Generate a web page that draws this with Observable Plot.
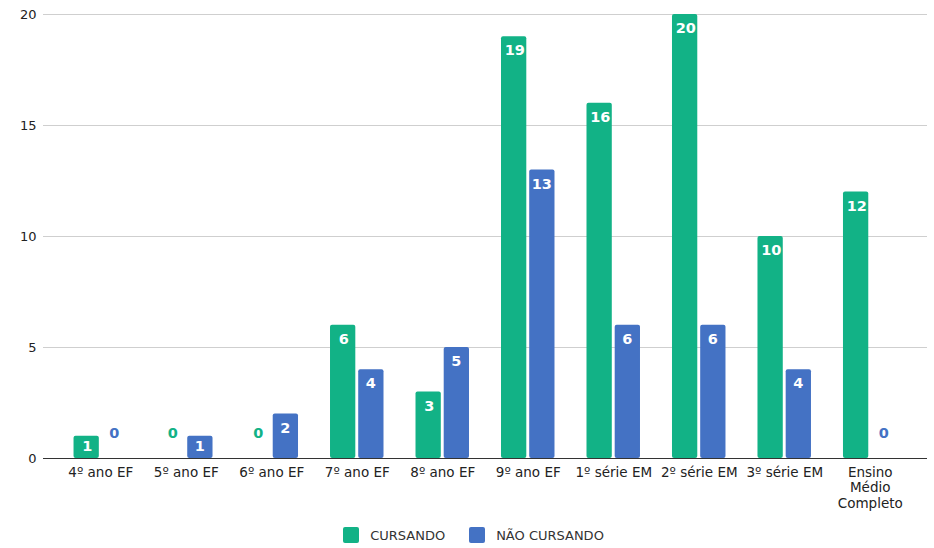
<!DOCTYPE html>
<html>
<head>
<meta charset="utf-8">
<script src="https://cdn.jsdelivr.net/npm/d3@7"></script>
<script src="https://cdn.jsdelivr.net/npm/@observablehq/plot@0.6"></script>
<style>
  html, body { margin: 0; padding: 0; background: #fff; }
  body { width: 934px; height: 548px; overflow: hidden; font-family: "DejaVu Sans", Verdana, sans-serif; }
  #legend { display: flex; justify-content: center; align-items: center; margin-top: 12px; padding-left: 13px; font-size: 13px; color: #333; }
  .item { display: flex; align-items: center; margin: 0 12px; }
  .sw { width: 16px; height: 16px; border-radius: 2px; margin-right: 11px; }
</style>
</head>
<body>
<div id="chart"></div>
<div id="legend"></div>
<script>
const categories = ["4º ano EF", "5º ano EF", "6º ano EF", "7º ano EF", "8º ano EF", "9º ano EF", "1º série EM", "2º série EM", "3º série EM", "Ensino Médio Completo"];
const cursando = [1, 0, 0, 6, 3, 19, 16, 20, 10, 12];
const naoCursando = [0, 1, 2, 4, 5, 13, 6, 6, 4, 0];
const seriesNames = ["CURSANDO", "NÃO CURSANDO"];
const seriesColors = ["#12b286", "#4472c4"];
const yTicks = [0, 5, 10, 15, 20];

const data = categories.flatMap((c, i) => [
  {category: c, series: seriesNames[0], value: cursando[i]},
  {category: c, series: seriesNames[1], value: naoCursando[i]}
]);
const s0 = data.filter(d => d.series === seriesNames[0]);
const s1 = data.filter(d => d.series === seriesNames[1]);

const labelStyle = {x: "category", y: "value", text: d => String(d.value), fontWeight: "bold", fontSize: 14.5};

const chart = Plot.plot({
  width: 934,
  height: 515,
  marginTop: 14,
  marginBottom: 57,
  marginLeft: 43,
  marginRight: 7,
  style: {fontFamily: "DejaVu Sans, Verdana, sans-serif", fontSize: "13px", color: "#222", background: "#fff"},
  x: {domain: categories, paddingInner: 0, paddingOuter: 0.17, round: false, label: null},
  y: {domain: [0, 20], label: null},
  marks: [
    Plot.gridY(yTicks, {stroke: "#cfcfcf", strokeOpacity: 1}),
    Plot.barY(s0, {x: "category", y: "value", fill: seriesColors[0], insetLeft: 16, insetRight: 44.2, rx: 2}),
    Plot.barY(s1, {x: "category", y: "value", fill: seriesColors[1], insetLeft: 44.2, insetRight: 16, rx: 2}),
    Plot.ruleY([0], {stroke: "#333", strokeWidth: 1}),
    Plot.text(s0.filter(d => d.value > 1), {...labelStyle, dx: -13.5, dy: 14, fill: "white"}),
    Plot.text(s1.filter(d => d.value > 1), {...labelStyle, dx: 13.5, dy: 14, fill: "white"}),
    Plot.text(s0.filter(d => d.value === 1), {...labelStyle, dx: -13.5, dy: 10, fill: "white"}),
    Plot.text(s1.filter(d => d.value === 1), {...labelStyle, dx: 13.5, dy: 10, fill: "white"}),
    Plot.text(s0.filter(d => d.value === 0), {...labelStyle, dx: -13.5, dy: -25, fill: seriesColors[0]}),
    Plot.text(s1.filter(d => d.value === 0), {...labelStyle, dx: 13.5, dy: -25, fill: seriesColors[1]}),
    Plot.axisY({ticks: yTicks, tickSize: 0, tickPadding: 7, label: null, fontSize: 13}),
    Plot.axisX({tickSize: 0, tickPadding: 7, label: null, fontSize: 13.5, lineHeight: 1.15,
      tickFormat: d => d.startsWith("Ensino") ? d.replace(/ /g, "\n") : d})
  ]
});
document.getElementById("chart").appendChild(chart);

const legend = document.getElementById("legend");
seriesNames.forEach((name, i) => {
  const item = document.createElement("div");
  item.className = "item";
  const sw = document.createElement("div");
  sw.className = "sw";
  sw.style.background = seriesColors[i];
  const label = document.createElement("span");
  label.textContent = name;
  item.appendChild(sw);
  item.appendChild(label);
  legend.appendChild(item);
});
</script>
</body>
</html>
